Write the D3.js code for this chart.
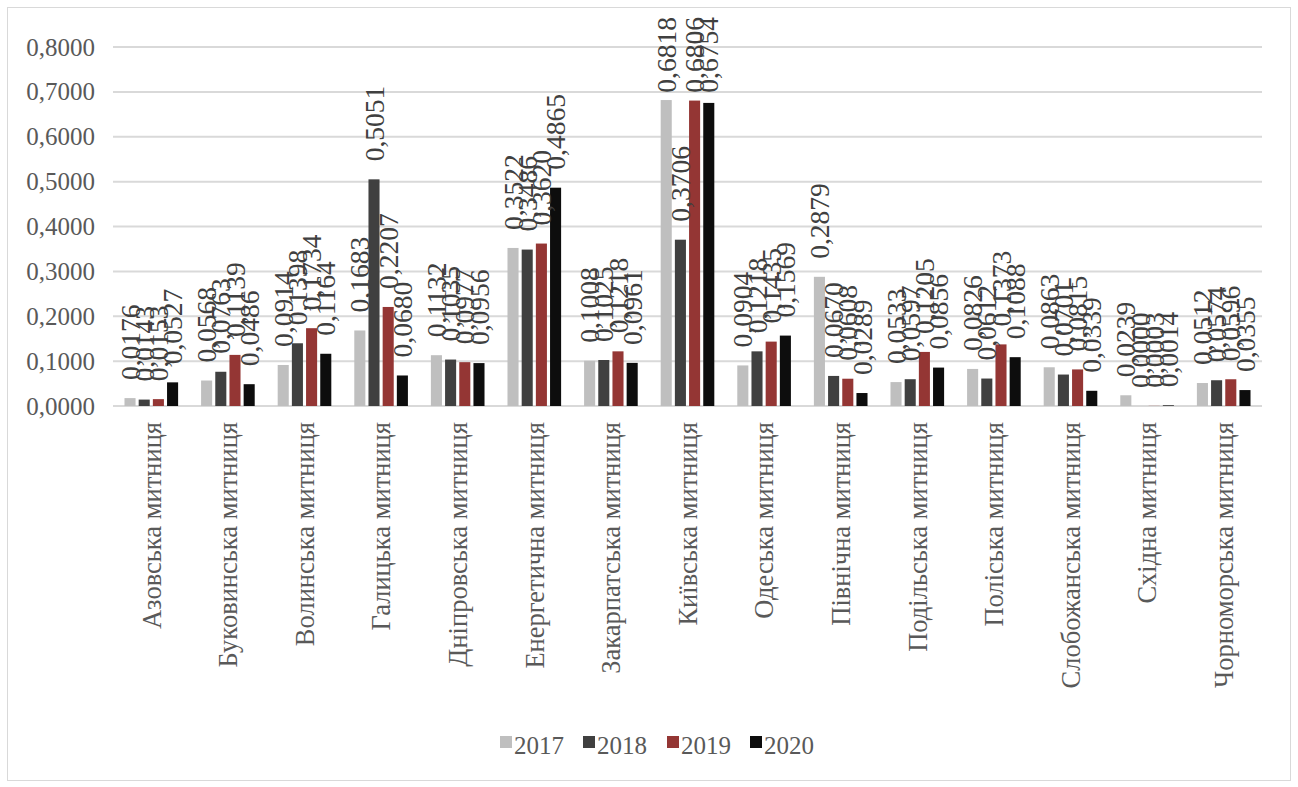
<!DOCTYPE html>
<html><head><meta charset="utf-8">
<script src="https://cdn.jsdelivr.net/npm/d3@7"></script>
<style>body{margin:0;background:#fff}</style>
</head><body>
<svg id="c" width="1298" height="787"></svg>
<script>
const categories = ["Азовська митниця","Буковинська митниця","Волинська митниця","Галицька митниця","Дніпровська митниця","Енергетична митниця","Закарпатська митниця","Київська митниця","Одеська митниця","Північна митниця","Подільська митниця","Поліська митниця","Слобожанська митниця","Східна митниця","Чорноморська митниця"];
const years = ["2017","2018","2019","2020"];
const v2017 = [0.0176,0.0568,0.0914,0.1683,0.1132,0.3522,0.1008,0.6818,0.0904,0.2879,0.0533,0.0826,0.0863,0.0239,0.0512];
const v2018 = [0.0143,0.0763,0.1398,0.5051,0.1035,0.3486,0.1025,0.3706,0.1218,0.0670,0.0597,0.0612,0.0701,0.0000,0.0574];
const v2019 = [0.0153,0.1139,0.1734,0.2207,0.0977,0.3620,0.1218,0.6806,0.1435,0.0608,0.1205,0.1373,0.0815,0.0003,0.0596];
const v2020 = [0.0527,0.0486,0.1164,0.0680,0.0956,0.4865,0.0961,0.6754,0.1569,0.0289,0.0856,0.1088,0.0339,0.0014,0.0355];
const yTicks = [0,0.1,0.2,0.3,0.4,0.5,0.6,0.7,0.8];
const colors = ["#bfbfbf","#404040","#943634","#0d0d0d"];
const series = [v2017,v2018,v2019,v2020];

const svg = d3.select("#c");
const font = "'Liberation Serif','Times New Roman',serif";
const fmt = d => d.toFixed(4).replace(".", ",");

svg.append("rect").attr("x",7.5).attr("y",7.5).attr("width",1283).attr("height",773)
  .attr("fill","#fff").attr("stroke","#d9d9d9").attr("stroke-width",1);

const L = 113, R = 1262, T = 47, B = 406;
const x = d3.scaleBand().domain(categories).range([L,R]).paddingInner(0.3).paddingOuter(0.15);
const xi = d3.scaleBand().domain(years).range([0,x.bandwidth()]).paddingInner(0.22);
const y = d3.scaleLinear().domain([0,0.8]).range([B,T]);

// gridlines
svg.append("g").selectAll("line").data(yTicks).join("line")
  .attr("x1",L).attr("x2",R).attr("y1",d=>y(d)).attr("y2",d=>y(d))
  .attr("stroke","#d9d9d9").attr("stroke-width",2);

// y axis labels
const yAxis = d3.axisLeft(y).tickValues(yTicks).tickFormat(fmt).tickSize(0).tickPadding(18);
const ya = svg.append("g").attr("transform",`translate(${L},0)`).call(yAxis);
ya.select(".domain").remove();
ya.selectAll("text").attr("font-family",font).attr("font-size",25).attr("fill","#595959");

// bars
const groups = svg.append("g").selectAll("g").data(categories).join("g")
  .attr("transform",d=>`translate(${x(d)},0)`);
years.forEach((yr,si)=>{
  groups.append("rect")
    .attr("x",xi(yr)).attr("width",xi.bandwidth())
    .attr("y",(d,i)=>y(series[si][i])).attr("height",(d,i)=>B-y(series[si][i]))
    .attr("fill",colors[si]);
});
years.forEach((yr,si)=>{
  groups.append("text")
    .attr("dy","0.35em")
    .attr("font-family",font).attr("font-size",27.5).attr("fill","#404040")
    .text((d,i)=>fmt(series[si][i]))
    .each(function(d,i){
      const len = this.getComputedTextLength();
      let base = y(series[si][i]) - 18;
      if (base - len < 17) base = 17 + len;
      d3.select(this).attr("transform",`translate(${xi(yr)+xi.bandwidth()/2},${base}) rotate(-90)`);
    });
});

// x axis labels
const xAxis = d3.axisBottom(x).tickSize(0).tickPadding(0);
const xa = svg.append("g").attr("transform",`translate(0,${B})`).call(xAxis);
xa.select(".domain").remove();
xa.selectAll("text")
  .attr("transform","translate(0,16) rotate(-90)")
  .attr("text-anchor","end").attr("dy","0.35em").attr("y",0).attr("x",0)
  .attr("font-family",font).attr("font-size",26.5).attr("fill","#595959");

// legend
const lg = svg.append("g").attr("transform","translate(500,745)");
const lx = [0,83,167,250];
years.forEach((yr,i)=>{
  lg.append("rect").attr("x",lx[i]).attr("y",-9).attr("width",12).attr("height",12).attr("fill",colors[i]);
  lg.append("text").attr("x",lx[i]+14).attr("y",0).attr("dy","0.35em")
    .attr("font-family",font).attr("font-size",25).attr("fill","#595959").text(yr);
});
</script>
</body></html>
